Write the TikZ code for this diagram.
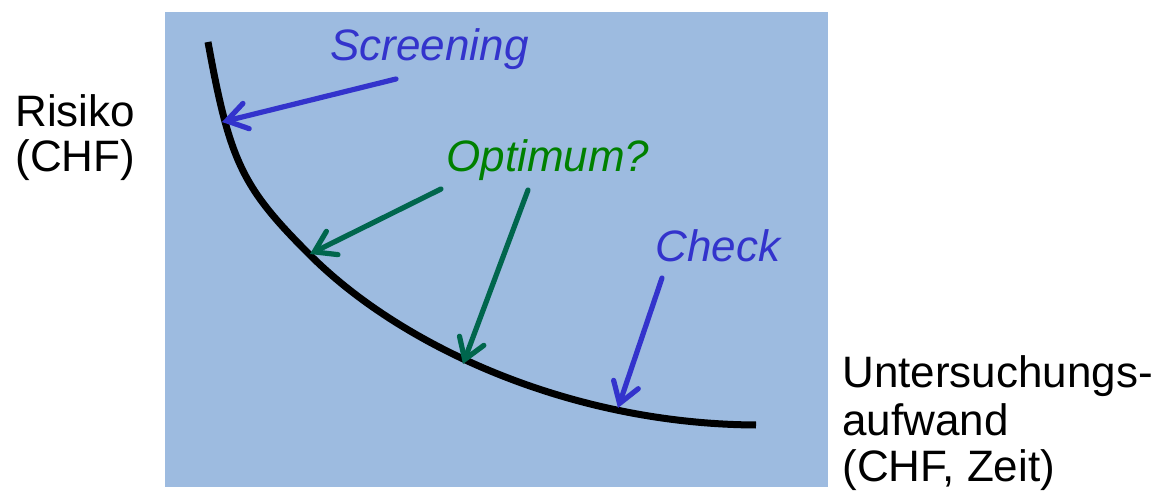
\documentclass[tikz,border=0pt]{standalone}
\usepackage{fontspec}
\setmainfont{Liberation Sans}
\usetikzlibrary{arrows.meta}
\definecolor{bgblue}{HTML}{9DBBE0}
\definecolor{lblue}{HTML}{3333CC}
\definecolor{lgreen}{HTML}{008000}
\definecolor{agreen}{HTML}{00664D}
\begin{document}
\begin{tikzpicture}[x=0.5pt,y=-0.5pt,
  lbl/.style={inner sep=0pt, anchor=base west, font=\fontsize{22}{26}\selectfont},
  ilbl/.style={inner sep=0pt, anchor=base west, font=\fontsize{22}{26}\selectfont\itshape},
  ptr/.style={line width=2.6pt, line cap=round, -{Straight Barb[length=10pt,width=13pt,line cap=round]}},
  curve/.style={line width=3.5pt, line cap=butt}
]
\useasboundingbox (0,0) rectangle (1163,492);
\fill[bgblue] (165,12) rectangle (828,487);

% curve
\coordinate (c0) at (208,42);
\coordinate (c1) at (310,255);
\coordinate (c2) at (756,425);
\draw[curve] (c0) .. controls (229.8,162) and (242.2,187.5) .. (c1)
                  .. controls (401.9,346.9) and (571,424) .. (c2);

% labels
\node[lbl] (risiko) at (15,127) {Risiko};
\node[lbl] (chf) at (15,172) {(CHF)};
\node[lbl] (unt1) at (842,387) {Untersuchungs-};
\node[lbl] (unt2) at (842,435) {aufwand};
\node[lbl] (unt3) at (842,481) {(CHF, Zeit)};
\node[ilbl, text=lblue] (screening) at (330,61) {Screening};
\node[ilbl, text=lgreen] (optimum) at (446,172) {Optimum?};
\node[ilbl, text=lblue] (check) at (655,262) {Check};

% pointer ends
\coordinate (sA) at (396,79);  \coordinate (sB) at (222,122);
\coordinate (oA) at (441,189); \coordinate (oB) at (310,254);
\coordinate (pA) at (528,190); \coordinate (pB) at (463,364);
\coordinate (cA) at (662,278); \coordinate (cB) at (618,408);

\draw[ptr, lblue] (sA) -- (sB);
\draw[ptr, agreen] (oA) -- (oB);
\draw[ptr, agreen] (pA) -- (pB);
\draw[ptr, lblue] (cA) -- (cB);
\end{tikzpicture}
\end{document}
